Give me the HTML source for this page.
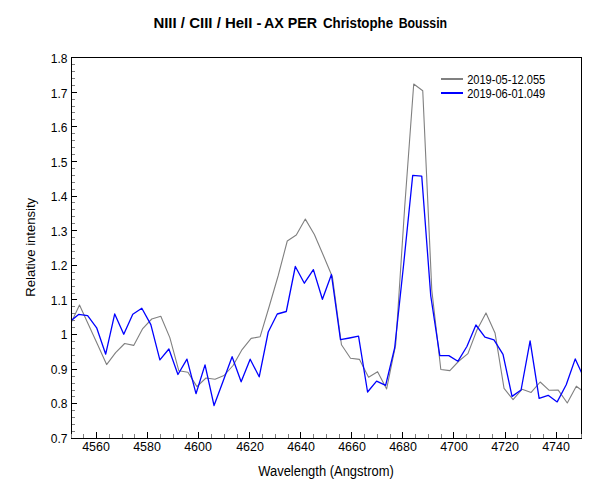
<!DOCTYPE html>
<html><head><meta charset="utf-8"><style>
html,body{margin:0;padding:0;background:#fff;width:600px;height:500px;overflow:hidden}
svg{display:block}
text{font-family:"Liberation Sans",sans-serif;fill:#000}
</style></head><body>
<svg width="600" height="500" viewBox="0 0 600 500">
<rect width="600" height="500" fill="#fff"/>
<defs><clipPath id="c"><rect x="72" y="58" width="509" height="380"/></clipPath></defs>
<rect x="71.5" y="57.5" width="510" height="381" fill="none" stroke="#000" stroke-width="1" shape-rendering="crispEdges"/>
<g shape-rendering="crispEdges" stroke-width="1">
<line x1="72" y1="431.5" x2="75" y2="431.5" stroke="#808080"/>
<line x1="72" y1="424.5" x2="75" y2="424.5" stroke="#808080"/>
<line x1="72" y1="417.5" x2="75" y2="417.5" stroke="#808080"/>
<line x1="72" y1="410.5" x2="75" y2="410.5" stroke="#808080"/>
<line x1="72" y1="403.5" x2="77" y2="403.5" stroke="#000"/>
<line x1="72" y1="396.5" x2="75" y2="396.5" stroke="#808080"/>
<line x1="72" y1="390.5" x2="75" y2="390.5" stroke="#808080"/>
<line x1="72" y1="383.5" x2="75" y2="383.5" stroke="#808080"/>
<line x1="72" y1="376.5" x2="75" y2="376.5" stroke="#808080"/>
<line x1="72" y1="369.5" x2="77" y2="369.5" stroke="#000"/>
<line x1="72" y1="362.5" x2="75" y2="362.5" stroke="#808080"/>
<line x1="72" y1="355.5" x2="75" y2="355.5" stroke="#808080"/>
<line x1="72" y1="348.5" x2="75" y2="348.5" stroke="#808080"/>
<line x1="72" y1="341.5" x2="75" y2="341.5" stroke="#808080"/>
<line x1="72" y1="334.5" x2="77" y2="334.5" stroke="#000"/>
<line x1="72" y1="327.5" x2="75" y2="327.5" stroke="#808080"/>
<line x1="72" y1="320.5" x2="75" y2="320.5" stroke="#808080"/>
<line x1="72" y1="313.5" x2="75" y2="313.5" stroke="#808080"/>
<line x1="72" y1="306.5" x2="75" y2="306.5" stroke="#808080"/>
<line x1="72" y1="299.5" x2="77" y2="299.5" stroke="#000"/>
<line x1="72" y1="293.5" x2="75" y2="293.5" stroke="#808080"/>
<line x1="72" y1="286.5" x2="75" y2="286.5" stroke="#808080"/>
<line x1="72" y1="279.5" x2="75" y2="279.5" stroke="#808080"/>
<line x1="72" y1="272.5" x2="75" y2="272.5" stroke="#808080"/>
<line x1="72" y1="265.5" x2="77" y2="265.5" stroke="#000"/>
<line x1="72" y1="258.5" x2="75" y2="258.5" stroke="#808080"/>
<line x1="72" y1="251.5" x2="75" y2="251.5" stroke="#808080"/>
<line x1="72" y1="244.5" x2="75" y2="244.5" stroke="#808080"/>
<line x1="72" y1="237.5" x2="75" y2="237.5" stroke="#808080"/>
<line x1="72" y1="230.5" x2="77" y2="230.5" stroke="#000"/>
<line x1="72" y1="223.5" x2="75" y2="223.5" stroke="#808080"/>
<line x1="72" y1="216.5" x2="75" y2="216.5" stroke="#808080"/>
<line x1="72" y1="209.5" x2="75" y2="209.5" stroke="#808080"/>
<line x1="72" y1="202.5" x2="75" y2="202.5" stroke="#808080"/>
<line x1="72" y1="196.5" x2="77" y2="196.5" stroke="#000"/>
<line x1="72" y1="189.5" x2="75" y2="189.5" stroke="#808080"/>
<line x1="72" y1="182.5" x2="75" y2="182.5" stroke="#808080"/>
<line x1="72" y1="175.5" x2="75" y2="175.5" stroke="#808080"/>
<line x1="72" y1="168.5" x2="75" y2="168.5" stroke="#808080"/>
<line x1="72" y1="161.5" x2="77" y2="161.5" stroke="#000"/>
<line x1="72" y1="154.5" x2="75" y2="154.5" stroke="#808080"/>
<line x1="72" y1="147.5" x2="75" y2="147.5" stroke="#808080"/>
<line x1="72" y1="140.5" x2="75" y2="140.5" stroke="#808080"/>
<line x1="72" y1="133.5" x2="75" y2="133.5" stroke="#808080"/>
<line x1="72" y1="126.5" x2="77" y2="126.5" stroke="#000"/>
<line x1="72" y1="119.5" x2="75" y2="119.5" stroke="#808080"/>
<line x1="72" y1="112.5" x2="75" y2="112.5" stroke="#808080"/>
<line x1="72" y1="106.5" x2="75" y2="106.5" stroke="#808080"/>
<line x1="72" y1="99.5" x2="75" y2="99.5" stroke="#808080"/>
<line x1="72" y1="92.5" x2="77" y2="92.5" stroke="#000"/>
<line x1="72" y1="85.5" x2="75" y2="85.5" stroke="#808080"/>
<line x1="72" y1="78.5" x2="75" y2="78.5" stroke="#808080"/>
<line x1="72" y1="71.5" x2="75" y2="71.5" stroke="#808080"/>
<line x1="72" y1="64.5" x2="75" y2="64.5" stroke="#808080"/>
<line x1="71.5" y1="438" x2="71.5" y2="434" stroke="#808080"/>
<line x1="83.5" y1="438" x2="83.5" y2="434" stroke="#808080"/>
<line x1="96.5" y1="438" x2="96.5" y2="432" stroke="#000"/>
<line x1="109.5" y1="438" x2="109.5" y2="434" stroke="#808080"/>
<line x1="122.5" y1="438" x2="122.5" y2="434" stroke="#808080"/>
<line x1="134.5" y1="438" x2="134.5" y2="434" stroke="#808080"/>
<line x1="147.5" y1="438" x2="147.5" y2="432" stroke="#000"/>
<line x1="160.5" y1="438" x2="160.5" y2="434" stroke="#808080"/>
<line x1="173.5" y1="438" x2="173.5" y2="434" stroke="#808080"/>
<line x1="186.5" y1="438" x2="186.5" y2="434" stroke="#808080"/>
<line x1="198.5" y1="438" x2="198.5" y2="432" stroke="#000"/>
<line x1="211.5" y1="438" x2="211.5" y2="434" stroke="#808080"/>
<line x1="224.5" y1="438" x2="224.5" y2="434" stroke="#808080"/>
<line x1="237.5" y1="438" x2="237.5" y2="434" stroke="#808080"/>
<line x1="249.5" y1="438" x2="249.5" y2="432" stroke="#000"/>
<line x1="262.5" y1="438" x2="262.5" y2="434" stroke="#808080"/>
<line x1="275.5" y1="438" x2="275.5" y2="434" stroke="#808080"/>
<line x1="288.5" y1="438" x2="288.5" y2="434" stroke="#808080"/>
<line x1="300.5" y1="438" x2="300.5" y2="432" stroke="#000"/>
<line x1="313.5" y1="438" x2="313.5" y2="434" stroke="#808080"/>
<line x1="326.5" y1="438" x2="326.5" y2="434" stroke="#808080"/>
<line x1="339.5" y1="438" x2="339.5" y2="434" stroke="#808080"/>
<line x1="351.5" y1="438" x2="351.5" y2="432" stroke="#000"/>
<line x1="364.5" y1="438" x2="364.5" y2="434" stroke="#808080"/>
<line x1="377.5" y1="438" x2="377.5" y2="434" stroke="#808080"/>
<line x1="390.5" y1="438" x2="390.5" y2="434" stroke="#808080"/>
<line x1="402.5" y1="438" x2="402.5" y2="432" stroke="#000"/>
<line x1="415.5" y1="438" x2="415.5" y2="434" stroke="#808080"/>
<line x1="428.5" y1="438" x2="428.5" y2="434" stroke="#808080"/>
<line x1="441.5" y1="438" x2="441.5" y2="434" stroke="#808080"/>
<line x1="453.5" y1="438" x2="453.5" y2="432" stroke="#000"/>
<line x1="466.5" y1="438" x2="466.5" y2="434" stroke="#808080"/>
<line x1="479.5" y1="438" x2="479.5" y2="434" stroke="#808080"/>
<line x1="492.5" y1="438" x2="492.5" y2="434" stroke="#808080"/>
<line x1="505.5" y1="438" x2="505.5" y2="432" stroke="#000"/>
<line x1="517.5" y1="438" x2="517.5" y2="434" stroke="#808080"/>
<line x1="530.5" y1="438" x2="530.5" y2="434" stroke="#808080"/>
<line x1="543.5" y1="438" x2="543.5" y2="434" stroke="#808080"/>
<line x1="556.5" y1="438" x2="556.5" y2="432" stroke="#000"/>
<line x1="568.5" y1="438" x2="568.5" y2="434" stroke="#808080"/>
<line x1="581.5" y1="438" x2="581.5" y2="434" stroke="#808080"/>
</g>
<g clip-path="url(#c)" fill="none" stroke-linejoin="round">
<polyline points="70.47,324.30 79.50,305.10 88.53,324.70 97.57,344.50 106.60,364.60 115.63,352.60 124.66,343.50 133.70,345.40 142.73,328.60 151.76,319.00 160.80,316.30 169.83,337.60 178.86,370.80 187.90,372.30 196.93,386.60 205.96,378.00 215.00,379.20 224.03,375.50 233.06,365.50 242.09,349.60 251.13,338.40 260.16,336.70 269.19,306.50 278.23,275.50 287.26,241.00 296.29,235.00 305.32,219.10 314.36,234.50 323.39,255.50 332.42,277.00 341.46,344.70 350.49,358.30 359.52,359.40 368.56,377.30 377.59,371.70 386.62,388.90 395.65,345.00 404.69,207.00 413.72,84.00 422.75,90.70 431.79,290.00 440.82,369.50 449.85,370.60 458.89,361.00 467.92,353.60 476.95,330.00 485.98,312.90 495.02,332.90 504.05,388.40 513.08,399.60 522.12,389.20 531.15,392.40 540.18,382.00 549.22,390.30 558.25,390.10 567.28,403.00 576.32,386.20 585.35,393.00" stroke="#808080" stroke-width="1.1"/>
<polyline points="69.57,321.80 78.60,314.40 87.63,315.60 96.66,327.80 105.69,354.20 114.72,313.90 123.75,334.20 132.78,314.20 141.81,308.30 150.84,324.60 159.87,359.80 168.90,349.00 177.93,374.50 186.96,359.10 195.99,393.70 205.02,364.90 214.05,405.60 223.08,381.20 232.11,356.70 241.14,381.80 250.17,359.20 259.20,376.80 268.23,332.00 277.26,314.00 286.29,311.50 295.32,266.50 304.35,283.20 313.38,269.60 322.41,299.30 331.44,274.50 340.47,339.60 349.50,338.00 358.53,336.20 367.56,392.00 376.59,381.10 385.62,385.30 394.65,348.00 403.68,264.00 412.71,175.30 421.74,176.10 430.77,296.00 439.80,355.60 448.83,355.60 457.86,361.30 466.89,346.50 475.92,325.00 484.95,337.10 493.98,339.80 503.01,354.40 512.04,396.40 521.07,390.00 530.10,340.90 539.13,398.30 548.16,395.30 557.19,401.90 566.22,384.80 575.25,358.90 584.28,378.60" stroke="#0000ff" stroke-width="1.3"/>
</g>
<g font-size="12">
<text x="67.4" y="443" text-anchor="end">0.7</text>
<text x="67.4" y="408" text-anchor="end">0.8</text>
<text x="67.4" y="374" text-anchor="end">0.9</text>
<text x="67.4" y="339" text-anchor="end">1</text>
<text x="67.4" y="305" text-anchor="end">1.1</text>
<text x="67.4" y="270" text-anchor="end">1.2</text>
<text x="67.4" y="236" text-anchor="end">1.3</text>
<text x="67.4" y="201" text-anchor="end">1.4</text>
<text x="67.4" y="167" text-anchor="end">1.5</text>
<text x="67.4" y="132" text-anchor="end">1.6</text>
<text x="67.4" y="98" text-anchor="end">1.7</text>
<text x="67.4" y="63" text-anchor="end">1.8</text>
<text x="82.2" y="451" textLength="27.7" lengthAdjust="spacingAndGlyphs">4560</text>
<text x="133.2" y="451" textLength="27.7" lengthAdjust="spacingAndGlyphs">4580</text>
<text x="184.2" y="451" textLength="27.7" lengthAdjust="spacingAndGlyphs">4600</text>
<text x="236.2" y="451" textLength="27.7" lengthAdjust="spacingAndGlyphs">4620</text>
<text x="287.2" y="451" textLength="27.7" lengthAdjust="spacingAndGlyphs">4640</text>
<text x="338.2" y="451" textLength="27.7" lengthAdjust="spacingAndGlyphs">4660</text>
<text x="389.2" y="451" textLength="27.7" lengthAdjust="spacingAndGlyphs">4680</text>
<text x="440.2" y="451" textLength="27.7" lengthAdjust="spacingAndGlyphs">4700</text>
<text x="491.2" y="451" textLength="27.7" lengthAdjust="spacingAndGlyphs">4720</text>
<text x="542.2" y="451" textLength="27.7" lengthAdjust="spacingAndGlyphs">4740</text>
</g>
<line x1="441" y1="79" x2="463" y2="79" stroke="#808080" stroke-width="2"/>
<line x1="441" y1="93" x2="463" y2="93" stroke="#0000ff" stroke-width="2"/>
<text x="153.40" y="28" font-size="14" font-weight="bold" textLength="108.20" lengthAdjust="spacingAndGlyphs" xml:space="preserve">NIII / CIII / HeII -</text>
<text x="264.00" y="28" font-size="14" font-weight="bold" textLength="53.13" lengthAdjust="spacingAndGlyphs" xml:space="preserve">AX PER</text>
<text x="258.24" y="476" font-size="14" textLength="135.51" lengthAdjust="spacingAndGlyphs" xml:space="preserve">Wavelength (Angstrom)</text>
<text x="467.16" y="84" font-size="12" textLength="78.10" lengthAdjust="spacingAndGlyphs" xml:space="preserve">2019-05-12.055</text>
<text x="467.16" y="98" font-size="12" textLength="78.10" lengthAdjust="spacingAndGlyphs" xml:space="preserve">2019-06-01.049</text>
<text transform="translate(35.40,296.74) rotate(-90)" x="0" y="0" font-size="13" textLength="98.91" lengthAdjust="spacingAndGlyphs" xml:space="preserve">Relative intensity</text>
<text x="322.90" y="28" font-size="14" font-weight="bold" textLength="70.27" lengthAdjust="spacingAndGlyphs" xml:space="preserve">Christophe</text>
<text x="398.64" y="28" font-size="14" font-weight="bold" textLength="48.49" lengthAdjust="spacingAndGlyphs" xml:space="preserve">Boussin</text>
</svg>
</body></html>
